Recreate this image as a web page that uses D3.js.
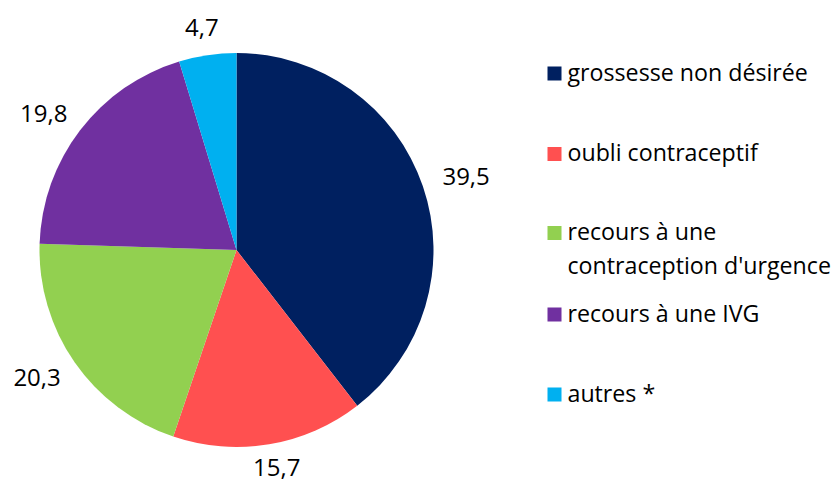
<!DOCTYPE html>
<html>
<head>
<meta charset="utf-8">
<script src="https://cdn.jsdelivr.net/npm/d3@7"></script>
<style>
  body { margin: 0; background: #fff; }
  text { font-family: "Open Sans", sans-serif; fill: #000; }
</style>
</head>
<body>
<div id="chart"></div>
<script>
// data
var categories = ["grossesse non désirée", "oubli contraceptif", "recours à une contraception d'urgence", "recours à une IVG", "autres *"];
var legendLines = [["grossesse non désirée"], ["oubli contraceptif"], ["recours à une", "contraception d'urgence"], ["recours à une IVG"], ["autres *"]];
var values = [39.5, 15.7, 20.3, 19.8, 4.7];
var valueLabels = ["39,5", "15,7", "20,3", "19,8", "4,7"];
var colors = ["#002060", "#FF5050", "#92D050", "#7030A0", "#00B0F0"];

var width = 835, height = 484;
var cx = 236.5, cy = 250, R = 197;

var svg = d3.select("#chart").append("svg")
  .attr("width", width).attr("height", height);

var pie = d3.pie().sort(null).value(function (d) { return d; });
var arcs = pie(values);
var arc = d3.arc().innerRadius(0).outerRadius(R);

var g = svg.append("g").attr("transform", "translate(" + cx + "," + cy + ")");

g.selectAll("path")
  .data(arcs)
  .enter()
  .append("path")
    .attr("d", arc)
    .attr("fill", function (d, i) { return colors[i]; });

// value labels outside the pie
var labels = g.selectAll("text.val")
  .data(arcs)
  .enter()
  .append("text")
    .attr("class", "val")
    .style("font-size", "24px")
    .attr("text-anchor", "middle")
    .text(function (d, i) { return valueLabels[i]; });

labels.each(function (d) {
  var a = (d.startAngle + d.endAngle) / 2;
  var w = this.getComputedTextLength();
  var r = R + 22;
  var x = Math.sin(a) * (r + w / 2);
  var y = -Math.cos(a) * (r + 5) + 8;
  d3.select(this).attr("x", x).attr("y", y);
  // keep the label box inside the svg
  var bb = this.getBBox();
  var over = bb.y + bb.height - (height - cy - 1);
  if (over > 0) d3.select(this).attr("y", y - over);
});

// legend
var legendY = [80.5, 161, 240, 321.5, 401.5];
var legend = svg.selectAll("g.leg")
  .data(legendLines)
  .enter()
  .append("g")
    .attr("class", "leg")
    .attr("transform", function (d, i) { return "translate(547.5," + legendY[i] + ")"; });

legend.append("rect")
  .attr("x", 0).attr("y", -14)
  .attr("width", 14).attr("height", 14)
  .attr("fill", function (d, i) { return colors[i]; });

legend.append("text")
  .style("font-size", "23.2px")
  .attr("x", 20)
  .attr("y", 0)
  .selectAll("tspan")
  .data(function (d) { return d; })
  .enter()
  .append("tspan")
    .attr("x", 20)
    .attr("dy", function (d, i) { return i === 0 ? 0 : 34; })
    .text(function (d) { return d; });
</script>
</body>
</html>
